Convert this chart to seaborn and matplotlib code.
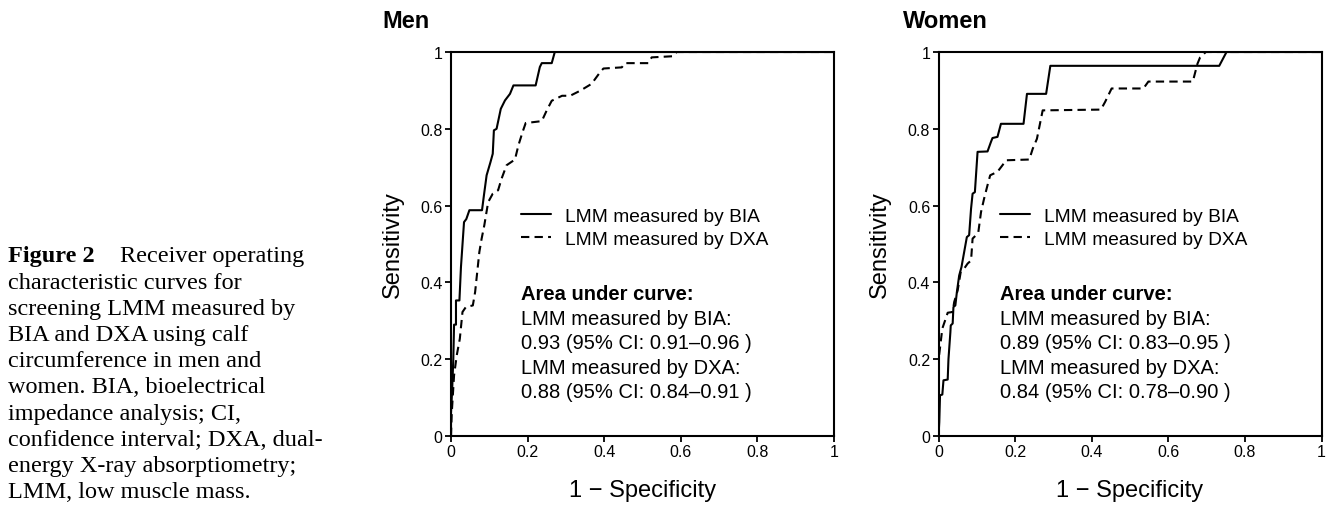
import matplotlib

matplotlib.use("Agg")
import matplotlib.pyplot as plt
import pandas as pd
import seaborn as sns

# ROC vertices (1 - specificity, sensitivity)
men_bia_fpr = [0, 0, 0.003, 0.006, 0.008, 0.013, 0.013, 0.022, 0.026, 0.034, 0.04, 0.048, 0.081, 0.086,
               0.093, 0.103, 0.109, 0.112, 0.119, 0.13, 0.141, 0.154, 0.163, 0.221, 0.232, 0.237, 0.263,
               0.271, 1.0]
men_bia_tpr = [0, 0.06, 0.12, 0.2, 0.29, 0.29, 0.353, 0.353, 0.44, 0.557, 0.565, 0.588, 0.588, 0.627,
               0.679, 0.713, 0.735, 0.796, 0.8, 0.852, 0.874, 0.891, 0.913, 0.913, 0.961, 0.971, 0.971,
               1.0, 1.0]

men_dxa_fpr = [0, 0.002, 0.008, 0.015, 0.023, 0.03, 0.039, 0.057, 0.063, 0.074, 0.08, 0.087, 0.097,
               0.109, 0.123, 0.132, 0.145, 0.167, 0.176, 0.187, 0.195, 0.237, 0.25, 0.263, 0.29, 0.311,
               0.337, 0.367, 0.389, 0.398, 0.446, 0.454, 0.515, 0.524, 0.58, 0.589, 1.0]
men_dxa_tpr = [0, 0.06, 0.158, 0.21, 0.253, 0.323, 0.336, 0.34, 0.375, 0.479, 0.514, 0.549, 0.609,
               0.631, 0.64, 0.67, 0.705, 0.72, 0.757, 0.792, 0.815, 0.82, 0.848, 0.873, 0.886, 0.886,
               0.899, 0.917, 0.947, 0.957, 0.96, 0.971, 0.971, 0.986, 0.989, 1.0, 1.0]

women_bia_fpr = [0, 0.002, 0.004, 0.01, 0.013, 0.024, 0.026, 0.031, 0.032, 0.037, 0.039, 0.044, 0.048,
                 0.054, 0.06, 0.067, 0.074, 0.08, 0.085, 0.089, 0.095, 0.102, 0.128, 0.137, 0.141, 0.154,
                 0.163, 0.222, 0.231, 0.281, 0.292, 0.733, 0.752, 1.0]
women_bia_tpr = [0, 0.036, 0.106, 0.108, 0.145, 0.147, 0.2, 0.27, 0.288, 0.293, 0.336, 0.34, 0.375,
                 0.418, 0.44, 0.479, 0.518, 0.523, 0.592, 0.631, 0.635, 0.74, 0.741, 0.766, 0.776, 0.779,
                 0.813, 0.813, 0.891, 0.891, 0.964, 0.964, 1.0, 1.0]

women_dxa_fpr = [0, 0, 0.004, 0.01, 0.019, 0.024, 0.037, 0.041, 0.05, 0.058, 0.067, 0.076, 0.085, 0.089,
                 0.098, 0.104, 0.111, 0.119, 0.13, 0.135, 0.154, 0.167, 0.176, 0.237, 0.246, 0.257, 0.272,
                 0.424, 0.435, 0.452, 0.535, 0.548, 0.664, 0.676, 0.683, 0.698, 1.0]
women_dxa_tpr = [0, 0.197, 0.23, 0.28, 0.306, 0.321, 0.323, 0.349, 0.379, 0.427, 0.436, 0.449, 0.457,
                 0.514, 0.523, 0.531, 0.583, 0.618, 0.661, 0.679, 0.688, 0.705, 0.718, 0.72, 0.748, 0.774,
                 0.848, 0.85, 0.87, 0.905, 0.905, 0.923, 0.923, 0.969, 0.986, 1.0, 1.0]

methods = ["LMM measured by BIA", "LMM measured by DXA"]
panels = ["Men", "Women"]
auc_text = {
    "Men": ["0.93 (95% CI: 0.91\u20130.96 )", "0.88 (95% CI: 0.84\u20130.91 )"],
    "Women": ["0.89 (95% CI: 0.83\u20130.95 )", "0.84 (95% CI: 0.78\u20130.90 )"],
}
tick_vals = [0, 0.2, 0.4, 0.6, 0.8, 1.0]
tick_labels = ["0", "0.2", "0.4", "0.6", "0.8", "1"]

caption = [
    "characteristic curves for",
    "screening LMM measured by",
    "BIA and DXA using calf",
    "circumference in men and",
    "women. BIA, bioelectrical",
    "impedance analysis; CI,",
    "confidence interval; DXA, dual-",
    "energy X-ray absorptiometry;",
    "LMM, low muscle mass.",
]


def _frame(fpr, tpr, panel, method):
    return pd.DataFrame({"fpr": fpr, "tpr": tpr, "panel": panel, "method": method})


roc = pd.concat(
    [
        _frame(men_bia_fpr, men_bia_tpr, "Men", methods[0]),
        _frame(men_dxa_fpr, men_dxa_tpr, "Men", methods[1]),
        _frame(women_bia_fpr, women_bia_tpr, "Women", methods[0]),
        _frame(women_dxa_fpr, women_dxa_tpr, "Women", methods[1]),
    ],
    ignore_index=True,
)

sns.set_theme(style="ticks")
plt.rcParams["font.family"] = ["Liberation Sans", "DejaVu Sans"]
plt.rcParams["axes.linewidth"] = 1.5
plt.rcParams["text.color"] = "black"
plt.rcParams["axes.labelcolor"] = "black"
plt.rcParams["xtick.color"] = "black"
plt.rcParams["ytick.color"] = "black"

fig = plt.figure(figsize=(13.26, 5.06), dpi=100)
W, H = 1326, 506
axes = {
    "Men": fig.add_axes([451 / W, 69 / H, 383 / W, 384 / H]),
    "Women": fig.add_axes([938.5 / W, 69 / H, 383 / W, 384 / H]),
}
text_x = {"Men": 0.183, "Women": 0.161}
title_x = {"Men": -0.18, "Women": -0.093}

for panel in panels:
    ax = axes[panel]
    sns.lineplot(
        data=roc[roc["panel"] == panel],
        x="fpr",
        y="tpr",
        style="method",
        style_order=methods,
        dashes={methods[0]: "", methods[1]: (4, 2.5)},
        color="black",
        linewidth=1.5,
        sort=False,
        estimator=None,
        ax=ax,
    )
    ax.set_xlim(0, 1)
    ax.set_ylim(0, 1)
    ax.set_xticks(tick_vals, tick_labels)
    ax.set_yticks(tick_vals, tick_labels)
    ax.tick_params(direction="out", length=4, width=1.3, labelsize=11.5, pad=2, colors="black")
    for side in ["top", "right", "bottom", "left"]:
        ax.spines[side].set_visible(True)
        ax.spines[side].set_color("black")
    ax.set_xlabel("1 \u2212 Specificity", fontsize=17, labelpad=14)
    ax.set_ylabel("Sensitivity", fontsize=17, labelpad=12)

    handles, labels = ax.get_legend_handles_labels()
    ax.legend(
        handles,
        labels,
        loc="center left",
        bbox_to_anchor=(text_x[panel], 0.543),
        frameon=False,
        fontsize=13.8,
        handlelength=1.55,
        handletextpad=0.75,
        labelspacing=0.28,
        borderpad=0,
        borderaxespad=0,
    )

    ax.text(text_x[panel], 0.37, "Area under curve:", fontsize=14.5, fontweight="bold",
            va="center", ha="left", transform=ax.transAxes)
    lines = [f"{methods[0]}:", auc_text[panel][0], f"{methods[1]}:", auc_text[panel][1]]
    for i, line in enumerate(lines):
        ax.text(text_x[panel], 0.37 - 0.0638 * (i + 1), line, fontsize=14.5,
                va="center", ha="left", transform=ax.transAxes)

    ax.text(title_x[panel], 1.065, panel, fontsize=17, fontweight="bold",
            va="baseline", ha="left", transform=ax.transAxes)

serif = ["Liberation Serif", "DejaVu Serif"]
fig.text(8 / W, 1 - 257 / H, "Figure 2", family=serif, fontsize=17.5, fontweight="bold", va="center")
fig.text(120 / W, 1 - 257 / H, "Receiver operating", family=serif, fontsize=17.5, va="center")
for i, line in enumerate(caption):
    fig.text(8 / W, 1 - (257 + 26.2 * (i + 1)) / H, line, family=serif, fontsize=17.5, va="center")

fig.savefig("out.png", dpi=100)
plt.close(fig)
